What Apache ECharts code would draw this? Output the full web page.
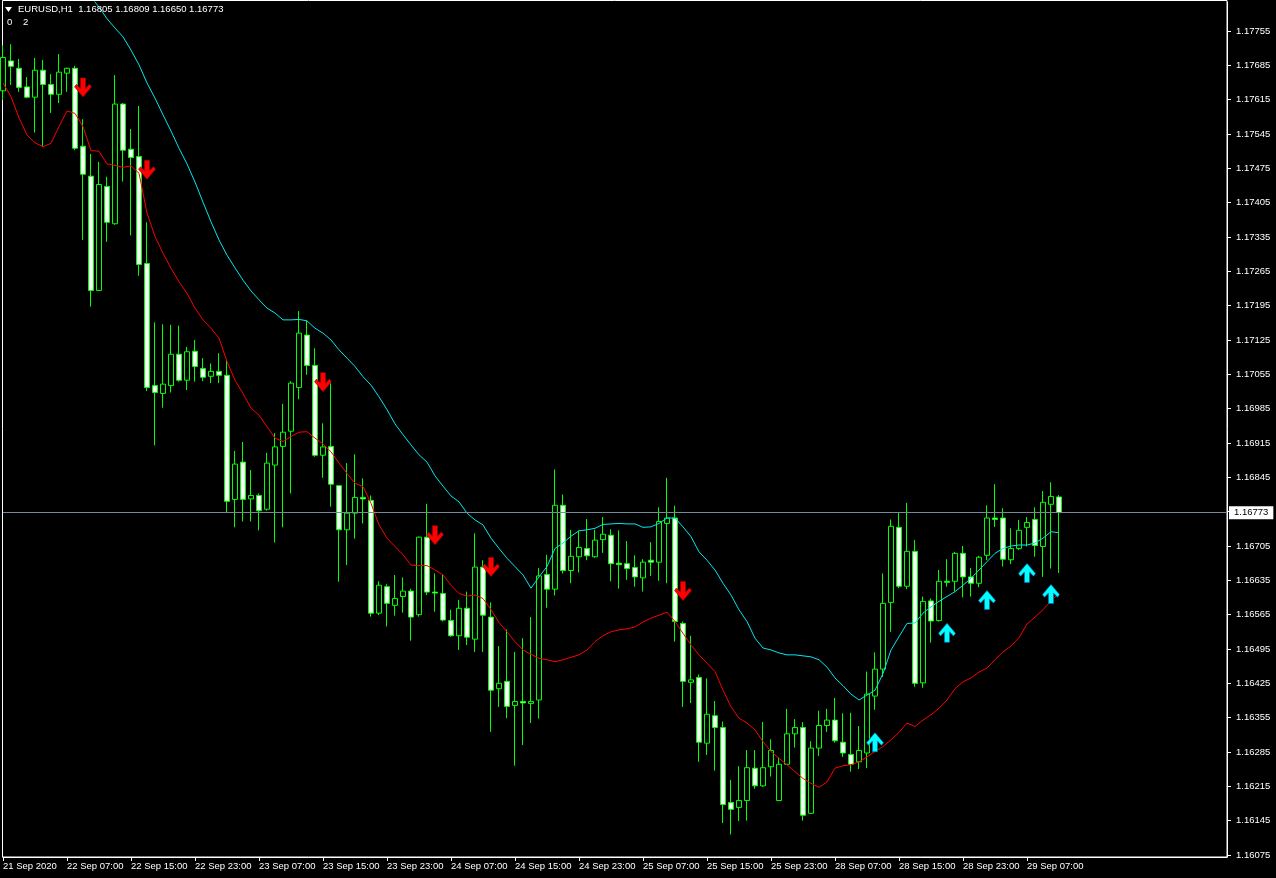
<!DOCTYPE html>
<html>
<head>
<meta charset="utf-8">
<script src="https://cdn.jsdelivr.net/npm/echarts@6/dist/echarts.min.js"></script>
<style>
html,body{margin:0;padding:0;background:#000;}
#chart{width:1276px;height:878px;}
</style>
</head>
<body>
<div id="chart"></div>
<script>
// ---- DATA ----
const symbolTitle = 'EURUSD,H1';
const lastQuote = ['1.16805', '1.16809', '1.16650', '1.16773'];
const bidPrice = 1.16773;

const opens = [1.17633,1.17694,1.17679,1.17641,1.17620,1.17675,1.17646,1.17626,1.17669,1.17679,
1.17520,1.17459,1.17226,1.17438,1.17362,1.17606,1.17514,1.17499,1.17281,1.17032,
1.17016,1.17032,1.17096,1.17043,1.17102,1.17067,1.17051,1.17061,1.17053,1.16800,
1.16876,1.16801,1.16808,1.16780,1.16870,1.16908,1.16939,1.17028,1.17135,1.17073,
1.16890,1.16908,1.16828,1.16738,1.16772,1.16804,1.16798,1.16568,1.16622,1.16584,
1.16602,1.16613,1.16565,1.16723,1.16611,1.16608,1.16553,1.16522,1.16578,1.16515,
1.16662,1.16560,1.16414,1.16429,1.16380,1.16388,1.16384,1.16391,1.16647,1.16617,
1.16788,1.16655,1.16683,1.16700,1.16683,1.16718,1.16727,1.16670,1.16669,1.16661,
1.16640,1.16676,1.16672,1.16751,1.16762,1.16547,1.16427,1.16437,1.16303,1.16359,
1.16335,1.16182,1.16172,1.16186,1.16252,1.16216,1.16255,1.16186,1.16260,1.16322,
1.16335,1.16160,1.16293,1.16339,1.16350,1.16305,1.16280,1.16265,1.16283,1.16399,
1.16454,1.16590,1.16743,1.16623,1.16694,1.16426,1.16593,1.16553,1.16633,1.16633,
1.16690,1.16642,1.16629,1.16686,1.16762,1.16762,1.16677,1.16700,1.16743,1.16759,
1.16704,1.16790,1.16805];
const highs = [1.17726,1.17728,1.17698,1.17661,1.17700,1.17696,1.17667,1.17708,1.17680,1.17684,
1.17575,1.17504,1.17488,1.17458,1.17665,1.17608,1.17555,1.17602,1.17365,1.17161,
1.17157,1.17156,1.17154,1.17111,1.17125,1.17088,1.17077,1.17098,1.17084,1.16899,
1.16917,1.16860,1.16812,1.16895,1.16935,1.16995,1.17041,1.17184,1.17164,1.17108,
1.16955,1.17037,1.16828,1.16874,1.16892,1.16843,1.16808,1.16633,1.16627,1.16646,
1.16641,1.16618,1.16724,1.16791,1.16649,1.16647,1.16575,1.16595,1.16612,1.16731,
1.16676,1.16590,1.16501,1.16535,1.16489,1.16517,1.16560,1.16660,1.16687,1.16861,
1.16810,1.16738,1.16736,1.16760,1.16738,1.16764,1.16739,1.16737,1.16715,1.16686,
1.16678,1.16713,1.16784,1.16844,1.16787,1.16551,1.16522,1.16443,1.16435,1.16389,
1.16347,1.16228,1.16256,1.16289,1.16289,1.16346,1.16311,1.16274,1.16373,1.16352,
1.16346,1.16307,1.16369,1.16373,1.16395,1.16364,1.16365,1.16338,1.16449,1.16488,
1.16649,1.16759,1.16772,1.16793,1.16717,1.16602,1.16598,1.16656,1.16678,1.16693,
1.16705,1.16660,1.16685,1.16788,1.16831,1.16782,1.16741,1.16758,1.16764,1.16784,
1.16817,1.16835,1.16809];
const lows = [1.17614,1.17645,1.17631,1.17618,1.17548,1.17519,1.17588,1.17608,1.17631,1.17512,
1.17329,1.17193,1.17225,1.17325,1.17360,1.17448,1.17338,1.17256,1.17021,1.16910,
1.16987,1.17018,1.17040,1.17023,1.17040,1.17041,1.17037,1.17037,1.16772,1.16743,
1.16755,1.16755,1.16737,1.16777,1.16712,1.16743,1.16812,1.17004,1.17054,1.16887,
1.16844,1.16785,1.16632,1.16666,1.16720,1.16751,1.16561,1.16564,1.16541,1.16563,
1.16569,1.16512,1.16561,1.16605,1.16571,1.16551,1.16520,1.16493,1.16503,1.16489,
1.16489,1.16326,1.16377,1.16354,1.16257,1.16299,1.16344,1.16353,1.16579,1.16604,
1.16649,1.16629,1.16651,1.16676,1.16681,1.16691,1.16633,1.16618,1.16636,1.16622,
1.16612,1.16644,1.16634,1.16629,1.16510,1.16377,1.16385,1.16265,1.16279,1.16247,
1.16140,1.16117,1.16144,1.16145,1.16210,1.16214,1.16235,1.16185,1.16259,1.16294,
1.16145,1.16159,1.16277,1.16326,1.16304,1.16275,1.16245,1.16250,1.16252,1.16371,
1.16438,1.16530,1.16619,1.16617,1.16418,1.16416,1.16508,1.16551,1.16622,1.16612,
1.16600,1.16602,1.16621,1.16676,1.16744,1.16663,1.16668,1.16697,1.16704,1.16683,
1.16642,1.16659,1.16650];
const closes = [1.17701,1.17683,1.17640,1.17620,1.17675,1.17646,1.17626,1.17671,1.17679,1.17516,
1.17463,1.17226,1.17442,1.17365,1.17606,1.17512,1.17497,1.17279,1.17028,1.17018,
1.17035,1.17096,1.17043,1.17101,1.17071,1.17049,1.17061,1.17053,1.16796,1.16872,
1.16800,1.16808,1.16777,1.16874,1.16907,1.16937,1.17037,1.17139,1.17073,1.16890,
1.16907,1.16831,1.16738,1.16772,1.16804,1.16801,1.16568,1.16625,1.16588,1.16598,
1.16613,1.16560,1.16723,1.16611,1.16609,1.16554,1.16522,1.16578,1.16519,1.16662,
1.16564,1.16411,1.16425,1.16378,1.16388,1.16385,1.16388,1.16644,1.16617,1.16788,
1.16655,1.16684,1.16702,1.16685,1.16717,1.16729,1.16669,1.16667,1.16659,1.16642,
1.16672,1.16672,1.16755,1.16762,1.16551,1.16429,1.16432,1.16305,1.16362,1.16335,
1.16178,1.16168,1.16186,1.16253,1.16216,1.16253,1.16288,1.16260,1.16322,1.16335,
1.16156,1.16293,1.16339,1.16350,1.16308,1.16283,1.16260,1.16288,1.16403,1.16454,
1.16588,1.16745,1.16623,1.16694,1.16425,1.16592,1.16552,1.16633,1.16631,1.16690,
1.16642,1.16629,1.16682,1.16762,1.16759,1.16678,1.16700,1.16737,1.16753,1.16706,
1.16794,1.16806,1.16773];

// lower (red) channel line
const redLine = [1.17649,1.17621,1.17578,1.17543,1.17527,1.17519,1.17526,1.17560,1.17592,1.17587,
1.17560,1.17511,1.17510,1.17484,1.17481,1.17477,1.17480,1.17465,1.17384,1.17336,
1.17302,1.17271,1.17244,1.17220,1.17190,1.17166,1.17149,1.17129,1.17081,1.17043,
1.17016,1.16986,1.16972,1.16948,1.16925,1.16918,1.16928,1.16937,1.16938,1.16925,
1.16913,1.16897,1.16874,1.16853,1.16833,1.16826,1.16792,1.16748,1.16721,1.16704,
1.16687,1.16666,1.16665,1.16665,1.16656,1.16646,1.16625,1.16608,1.16603,1.16605,
1.16598,1.16575,1.16549,1.16530,1.16510,1.16493,1.16484,1.16476,1.16473,1.16469,
1.16473,1.16478,1.16483,1.16493,1.16510,1.16522,1.16530,1.16534,1.16536,1.16540,
1.16550,1.16558,1.16564,1.16570,1.16551,1.16527,1.16503,1.16483,1.16466,1.16449,
1.16411,1.16377,1.16354,1.16344,1.16330,1.16306,1.16286,1.16272,1.16259,1.16245,
1.16231,1.16221,1.16213,1.16224,1.16252,1.16257,1.16259,1.16265,1.16275,1.16286,
1.16296,1.16310,1.16325,1.16344,1.16337,1.16350,1.16361,1.16374,1.16391,1.16414,
1.16428,1.16436,1.16448,1.16456,1.16473,1.16489,1.16501,1.16518,1.16546,1.16560,
1.16575,1.16593,1.16609];

// upper (cyan) channel line (first values lie above the visible area)
const cyanLine = [null,null,null,null,null,null,null,null,null,null,
null,1.17824,1.17804,1.17780,1.17761,1.17743,1.17716,1.17686,1.17649,1.17618,
1.17584,1.17551,1.17516,1.17484,1.17447,1.17406,1.17366,1.17329,1.17298,1.17272,
1.17247,1.17225,1.17207,1.17190,1.17180,1.17166,1.17166,1.17167,1.17164,1.17149,
1.17139,1.17125,1.17105,1.17088,1.17071,1.17050,1.17033,1.17009,1.16983,1.16954,
1.16932,1.16911,1.16891,1.16876,1.16848,1.16827,1.16807,1.16795,1.16772,1.16758,
1.16748,1.16721,1.16700,1.16680,1.16663,1.16646,1.16619,1.16642,1.16663,1.16700,
1.16711,1.16725,1.16736,1.16738,1.16741,1.16749,1.16750,1.16751,1.16750,1.16750,
1.16743,1.16744,1.16751,1.16762,1.16762,1.16744,1.16724,1.16693,1.16676,1.16656,
1.16629,1.16605,1.16575,1.16551,1.16517,1.16497,1.16493,1.16487,1.16483,1.16483,
1.16481,1.16479,1.16473,1.16458,1.16436,1.16420,1.16403,1.16391,1.16401,1.16411,
1.16445,1.16493,1.16520,1.16547,1.16548,1.16568,1.16581,1.16592,1.16602,1.16612,
1.16625,1.16639,1.16656,1.16673,1.16690,1.16700,1.16705,1.16707,1.16707,1.16711,
1.16721,1.16734,1.16732];

// signal arrows: bar index and price
const sellArrowBars = [10, 18, 40, 54, 61, 85];
const sellArrowPrices = [1.17640, 1.17472, 1.17039, 1.16727, 1.16662, 1.16613];
const buyArrowBars = [109, 118, 123, 128, 131];
const buyArrowPrices = [1.16305, 1.16528, 1.16595, 1.16650, 1.16607];

// time axis labels (every 8 bars)
const tickLabels = ['21 Sep 2020','22 Sep 07:00','22 Sep 15:00','22 Sep 23:00','23 Sep 07:00',
'23 Sep 15:00','23 Sep 23:00','24 Sep 07:00','24 Sep 15:00','24 Sep 23:00','25 Sep 07:00',
'25 Sep 15:00','25 Sep 23:00','28 Sep 07:00','28 Sep 15:00','28 Sep 23:00','29 Sep 07:00'];
// price axis labels
const priceTicks = [1.16075,1.16145,1.16215,1.16285,1.16355,1.16425,1.16495,1.16565,1.16635,
1.16705,1.16775,1.16845,1.16915,1.16985,1.17055,1.17125,1.17195,1.17265,1.17335,1.17405,
1.17475,1.17545,1.17615,1.17685,1.17755];

// ---- build categories: hourly bars, weekends skipped, plus empty space on the right ----
const nBars = opens.length;
const emptyBars = 21;
const categories = [];
{
  let t = Date.UTC(2020, 8, 21, 23);
  for (let i = 0; i < nBars; i++) {
    let d = new Date(t);
    while (d.getUTCDay() === 6 || d.getUTCDay() === 0) { t += 3600000; d = new Date(t); }
    categories.push(d.toISOString().slice(0, 16).replace('T', ' '));
    t += 3600000;
  }
  for (let i = 0; i < emptyBars; i++) categories.push('empty' + i);
}
const candleData = opens.map((o, i) => [o, closes[i], lows[i], highs[i]]);
const sellData = sellArrowBars.map((b, i) => [b, sellArrowPrices[i]]);
const buyData = buyArrowBars.map((b, i) => [b, buyArrowPrices[i]]);

const FONT = 'Liberation Sans';
const chart = echarts.init(document.getElementById('chart'), null, {renderer: 'canvas'});
const downArrow = 'path://M6,0 L11,0 L11,10 L15,6 L17,8.5 L8.5,18 L0,8.5 L2,6 L6,10 Z';
const upArrow = 'path://M6,18 L11,18 L11,8 L15,12 L17,9.5 L8.5,0 L0,9.5 L2,12 L6,8 Z';

chart.setOption({
  backgroundColor: '#000000',
  animation: false,
  grid: {left: 3, right: 49, top: 2, bottom: 21, show: false},
  xAxis: {
    type: 'category',
    data: categories,
    boundaryGap: false,
    axisLine: {show: true, lineStyle: {color: '#ffffff', width: 1}},
    axisTick: {show: true, length: 4, lineStyle: {color: '#ffffff'},
      interval: (i) => i % 8 === 0 && i / 8 < tickLabels.length},
    axisLabel: {
      color: '#ffffff', fontFamily: FONT, fontSize: 9.5, margin: 4, align: 'left',
      interval: (i) => i % 8 === 0 && i / 8 < tickLabels.length,
      formatter: (v, i) => (i % 8 === 0 && i / 8 < tickLabels.length) ? tickLabels[i / 8] : ''
    },
    splitLine: {show: false}
  },
  yAxis: {
    type: 'value',
    position: 'right',
    min: 1.160709,
    max: 1.178141,
    axisLine: {show: true, onZero: false, lineStyle: {color: '#ffffff', width: 1}},
    axisTick: {show: true, length: 4, inside: false, lineStyle: {color: '#ffffff'}, customValues: priceTicks},
    axisLabel: {color: '#ffffff', fontFamily: FONT, fontSize: 9.5, margin: 9,
      customValues: priceTicks, formatter: (v) => v.toFixed(5)},
    splitLine: {show: false}
  },
  graphic: [
    {type: 'rect', shape: {x: 2.5, y: 0.5, width: 1224.5, height: 856.5}, silent: true,
      style: {fill: 'none', stroke: '#ffffff', lineWidth: 1}, z: 0},
    {type: 'polygon', shape: {points: [[5, 7], [12, 7], [8.5, 12]]}, style: {fill: '#ffffff'}, z: 100},
    {type: 'text', left: 18, top: 4, z: 100,
      style: {text: symbolTitle + '  ' + lastQuote.join(' '), fill: '#ffffff', font: '9.5px "Liberation Sans"'}},
    {type: 'text', left: 7, top: 17, z: 100,
      style: {text: '0', fill: '#ffffff', font: '9.5px "Liberation Sans"'}},
    {type: 'text', left: 23, top: 17, z: 100,
      style: {text: '2', fill: '#ffffff', font: '9.5px "Liberation Sans"'}}
  ],
  series: [
    {
      type: 'candlestick',
      data: candleData,
      barWidth: 5,
      clip: true,
      itemStyle: {color: '#000000', color0: '#ffffff', borderColor: '#00ff00', borderColor0: '#00ff00', borderWidth: 1},
      z: 2
    },
    {type: 'line', data: redLine, showSymbol: false, symbol: 'none',
      lineStyle: {color: '#ff0000', width: 1}, z: 3,
      markLine: {
        symbol: 'none', silent: true, animation: false, precision: 5,
        lineStyle: {color: '#778899', width: 1, type: 'solid'},
        label: {show: true, position: 'end', formatter: bidPrice.toFixed(5), color: '#000000',
          backgroundColor: '#ffffff', padding: [2, 5, 1, 5], fontFamily: FONT, fontSize: 9.5, distance: 2},
        data: [{yAxis: bidPrice}]
      }
    },
    {type: 'line', data: cyanLine, showSymbol: false, symbol: 'none', connectNulls: false,
      lineStyle: {color: '#00e8f0', width: 1}, z: 3},
    {type: 'scatter', data: sellData, symbol: downArrow, symbolSize: [17, 19],
      itemStyle: {color: '#ff0000', opacity: 1, borderColor: '#a00000', borderWidth: 0.6}, z: 4},
    {type: 'scatter', data: buyData, symbol: upArrow, symbolSize: [17, 19],
      itemStyle: {color: '#00ffff', opacity: 1, borderColor: '#0070c0', borderWidth: 0.6}, z: 4}
  ]
});
</script>
</body>
</html>
